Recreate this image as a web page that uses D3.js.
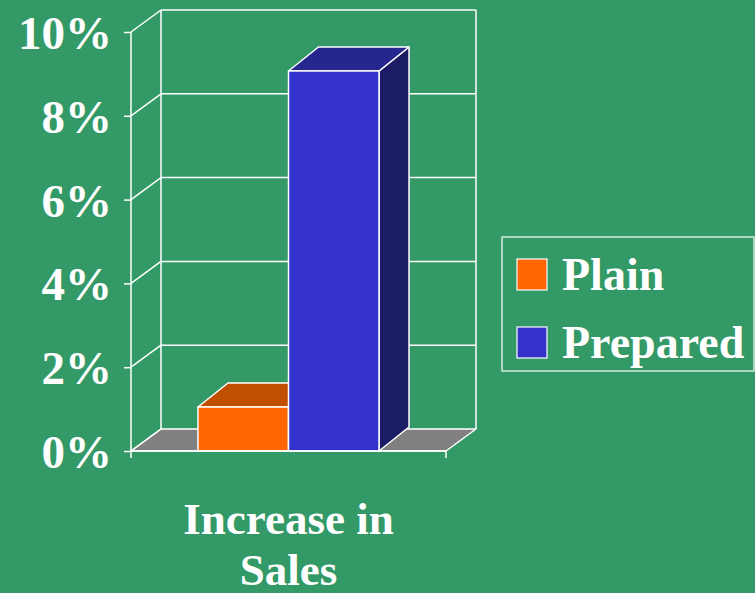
<!DOCTYPE html>
<html>
<head>
<meta charset="utf-8">
<script src="https://cdn.jsdelivr.net/npm/d3@7"></script>
<style>
  html, body { margin: 0; padding: 0; background: #339966; }
  svg { display: block; }
  text { font-family: "Liberation Serif", "Times New Roman", serif; font-weight: bold; fill: #ffffff; }
</style>
</head>
<body>
<svg id="chart" width="755" height="593"></svg>
<script>
// ---- data ----
const categories = ["Increase in Sales"];
const categoryLines = ["Increase in", "Sales"];
const series = ["Plain", "Prepared"];
const values = [1.05, 9.07];           // percent
const yTicks = [0, 2, 4, 6, 8, 10];
const yTickLabels = ["0%", "2%", "4%", "6%", "8%", "10%"];
const seriesColors = ["#ff6600", "#3333cc"];
const seriesTopColors = ["#c05000", "#26268f"];
const seriesSideColors = ["#8a3a00", "#1b1b66"];

// ---- layout ----
const svg = d3.select("#chart");
const plotLeft = 131, plotRight = 446, plotBottom = 451, plotTop = 32;
const wallDx = 30, wallDy = -22;   // depth offset for walls/floor
const barDx = 30, barDy = -24;     // depth offset for bars
const stroke = "#ffffff";
const sw = 1.5;

const y = d3.scaleLinear().domain([0, 10]).range([plotBottom, plotTop]);
const x0 = d3.scaleBand().domain(categories).range([plotLeft, plotRight]).padding(0);
const x1 = d3.scaleBand().domain(series).range([0, x0.bandwidth()]).paddingInner(0).paddingOuter(0.74);

const g = svg.append("g");

// floor
const floorPts = [[plotLeft, plotBottom], [plotRight, plotBottom], [plotRight + wallDx, plotBottom + wallDy], [plotLeft + wallDx, plotBottom + wallDy]];
g.append("polygon")
  .attr("points", floorPts.map(p => p.join(",")).join(" "))
  .attr("fill", "#808080").attr("stroke", stroke).attr("stroke-width", sw).attr("stroke-linejoin", "round");

// back wall gridlines + side wall diagonals
yTicks.forEach(t => {
  const yy = y(t);
  if (t > 0) {
    g.append("line").attr("x1", plotLeft + wallDx).attr("x2", plotRight + wallDx)
      .attr("y1", yy + wallDy).attr("y2", yy + wallDy)
      .attr("stroke", stroke).attr("stroke-width", sw);
  }
  g.append("line").attr("x1", plotLeft).attr("y1", yy)
    .attr("x2", plotLeft + wallDx).attr("y2", yy + wallDy)
    .attr("stroke", stroke).attr("stroke-width", sw);
});
// back wall verticals
[plotLeft + wallDx, plotRight + wallDx].forEach(xx => {
  g.append("line").attr("x1", xx).attr("x2", xx)
    .attr("y1", y(10) + wallDy).attr("y2", y(0) + wallDy)
    .attr("stroke", stroke).attr("stroke-width", sw);
});

// bars
series.forEach((s, i) => {
  const v = values[i];
  const bx = x0(categories[0]) + x1(s);
  const bw = x1.bandwidth();
  const yt = y(v), yb = y(0);
  const bg = g.append("g");
  bg.append("polygon")
    .attr("points", [[bx + bw, yt], [bx + bw + barDx, yt + barDy], [bx + bw + barDx, yb + barDy], [bx + bw, yb]].map(p => p.join(",")).join(" "))
    .attr("fill", seriesSideColors[i]).attr("stroke", stroke).attr("stroke-width", sw).attr("stroke-linejoin", "round");
  bg.append("polygon")
    .attr("points", [[bx, yt], [bx + barDx, yt + barDy], [bx + bw + barDx, yt + barDy], [bx + bw, yt]].map(p => p.join(",")).join(" "))
    .attr("fill", seriesTopColors[i]).attr("stroke", stroke).attr("stroke-width", sw).attr("stroke-linejoin", "round");
  bg.append("rect").attr("x", bx).attr("y", yt).attr("width", bw).attr("height", yb - yt)
    .attr("fill", seriesColors[i]).attr("stroke", stroke).attr("stroke-width", sw);
});

// front axis lines
g.append("line").attr("x1", plotLeft).attr("x2", plotLeft).attr("y1", y(10)).attr("y2", y(0))
  .attr("stroke", stroke).attr("stroke-width", sw);
g.append("line").attr("x1", plotLeft).attr("x2", plotRight).attr("y1", y(0)).attr("y2", y(0))
  .attr("stroke", stroke).attr("stroke-width", sw);

// y axis via d3
const yAxis = d3.axisLeft(y).tickValues(yTicks).tickFormat((d, i) => yTickLabels[i]).tickSize(7).tickPadding(12);
const ya = svg.append("g").attr("transform", `translate(${plotLeft},0)`).call(yAxis);
ya.select(".domain").remove();
ya.selectAll(".tick line").attr("stroke", stroke).attr("stroke-width", sw);
ya.selectAll(".tick text").attr("fill", "#fff").style("font-size", "47px")
  .style("font-family", '"Liberation Serif", "Times New Roman", serif').style("font-weight", "bold")
  .attr("dy", "0.35em");

// category axis ticks at ends
[plotLeft, plotRight].forEach(xx => {
  g.append("line").attr("x1", xx).attr("x2", xx).attr("y1", y(0)).attr("y2", y(0) + 7)
    .attr("stroke", stroke).attr("stroke-width", sw);
});

// category label
const cx = x0(categories[0]) + x0.bandwidth() / 2;
const ct = svg.append("text").attr("x", cx).attr("y", 534).attr("text-anchor", "middle").style("font-size", "45px");
categoryLines.forEach((l, i) => ct.append("tspan").attr("x", cx).attr("dy", i === 0 ? 0 : 51).text(l));

// legend
const lg = svg.append("g");
lg.append("rect").attr("x", 502).attr("y", 237).attr("width", 252).attr("height", 134)
  .attr("fill", "none").attr("stroke", stroke).attr("stroke-width", 1.2);
series.forEach((s, i) => {
  const ly = 259 + i * 68;
  lg.append("rect").attr("x", 517).attr("y", ly).attr("width", 30).attr("height", 31)
    .attr("fill", seriesColors[i]).attr("stroke", stroke).attr("stroke-width", 1.2);
  lg.append("text").attr("x", 562).attr("y", ly + 31).style("font-size", "46px").text(s);
});
</script>
</body>
</html>
